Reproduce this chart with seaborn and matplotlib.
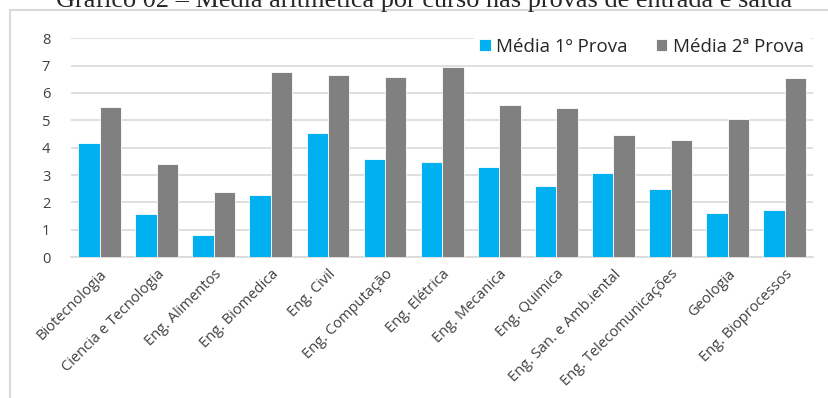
import pandas as pd
import matplotlib.pyplot as plt
import seaborn as sns
from matplotlib.patches import Rectangle

# dados
cursos = ["Biotecnologia", "Ciencia e Tecnologia", "Eng. Alimentos", "Eng. Biomedica",
          "Eng. Civil", "Eng. Computação", "Eng. Elétrica", "Eng. Mecanica",
          "Eng. Quimica", "Eng. San. e Amb.iental", "Eng. Telecomunicações",
          "Geologia", "Eng. Bioprocessos"]
media_1 = [4.18, 1.57, 0.79, 2.26, 4.55, 3.57, 3.46, 3.29, 2.60, 3.09, 2.48, 1.62, 1.73]
media_2 = [5.50, 3.39, 2.37, 6.78, 6.65, 6.59, 6.95, 5.56, 5.46, 4.46, 4.27, 5.05, 6.54]
series = ["Média 1º Prova", "Média 2ª Prova"]

df = pd.DataFrame({"Curso": cursos, series[0]: media_1, series[1]: media_2})
df_long = df.melt(id_vars="Curso", var_name="Serie", value_name="Media")

sns.set_style("white")
plt.rcParams["font.family"] = ["Open Sans", "DejaVu Sans"]

fig = plt.figure(figsize=(8.29, 3.98), dpi=100)
ax = fig.add_axes([0.0857, 0.354, 0.8953, 0.55])

sns.barplot(data=df_long, x="Curso", y="Media", hue="Serie",
            palette=["#00B0F0", "#808080"], width=0.75, saturation=1,
            edgecolor="white", linewidth=0.6, ax=ax, zorder=3)

ax.set_ylim(0, 8)
ax.set_yticks(range(0, 9))
ax.set_xlim(-0.5, len(cursos) - 0.5)
ax.set_xlabel("")
ax.set_ylabel("")
ax.grid(axis="y", color="#D9D9D9", linewidth=1.2, zorder=0)
ax.set_axisbelow(True)
for s in ["top", "right", "left"]:
    ax.spines[s].set_visible(False)
ax.spines["bottom"].set_color("#D9D9D9")
ax.spines["bottom"].set_linewidth(1.2)
ax.tick_params(axis="both", length=0, labelsize=10.5, colors="#404040")
ax.tick_params(axis="y", pad=15)
ax.tick_params(axis="x", pad=7)
plt.setp(ax.get_xticklabels(), rotation=45, ha="right", rotation_mode="anchor")

leg = ax.legend(loc="upper right", bbox_to_anchor=(1.0, 1.045), ncol=2, frameon=True,
                fontsize=13.5, handlelength=0.6, handleheight=0.6, handletextpad=0.3,
                columnspacing=1.5, borderpad=0.3, borderaxespad=0.2)
leg.get_frame().set_facecolor("white")
leg.get_frame().set_edgecolor("white")
leg.get_frame().set_alpha(1)
for t in leg.get_texts():
    t.set_color("#262626")

# borda da área do gráfico
fig.patches.append(Rectangle((10 / 829, -0.1), 1.2, 1 - 9.5 / 398 + 0.1,
                             transform=fig.transFigure, fill=False,
                             edgecolor="#D9D9D9", linewidth=1.5))

fig.text(0.512, 1 - 7 / 398, "Gráfico 02 – Média aritmética por curso nas provas de entrada e saída",
         ha="center", va="baseline", fontsize=18.9, family=["Liberation Serif"])

fig.savefig("out.png", dpi=100)
